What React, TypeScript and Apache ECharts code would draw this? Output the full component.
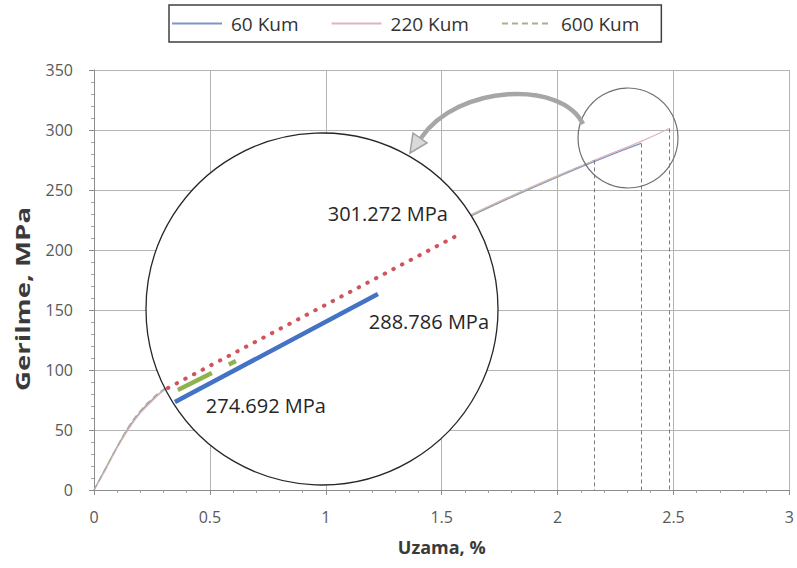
import React, { useEffect, useRef } from "react";
import * as echarts from "echarts";

// ---- main curves (strain %, stress MPa) ----
const strain60 = [0, 0.05, 0.1, 0.15, 0.2, 0.25, 0.3, 0.4, 0.5, 0.6, 0.7, 0.8, 0.9, 1.0, 1.2, 1.4, 1.6, 1.8, 2.0, 2.2, 2.36];
const stress60 = [0, 18, 36, 52, 65, 75, 83, 96, 109, 121, 133, 145, 156, 167, 188, 207, 226, 244, 261, 277, 288.786];

const strain220 = [0, 0.05, 0.1, 0.15, 0.2, 0.25, 0.3, 0.4, 0.5, 0.6, 0.7, 0.8, 0.9, 1.0, 1.2, 1.4, 1.6, 1.8, 2.0, 2.2, 2.36, 2.48];
const stress220 = [0, 17, 35, 51, 64, 74, 83, 97, 110, 122, 134, 146, 157, 168, 189, 208, 227, 245, 262, 278, 290.5, 301.272];

const strain600 = [0, 0.05, 0.1, 0.15, 0.2, 0.25, 0.3, 0.4, 0.5, 0.6, 0.7, 0.8, 0.9, 1.0, 1.2, 1.4, 1.6, 1.8, 2.0, 2.16];
const stress600 = [0, 18, 36, 53, 66, 76, 84, 97, 109, 121, 133, 145, 156, 167, 188, 207, 226, 244, 261, 274.692];

const seriesNames = ["60 Kum", "220 Kum", "600 Kum"];
const peaks = [288.786, 301.272, 274.692];

// ---- magnified inset (zoomed view of the curve ends) ----
const insetStrain60 = [2.051, 2.397];
const insetStress60 = [258.86, 283.41];
const insetStrain220 = [2.039, 2.54];
const insetStress220 = [262.05, 297.27];
const insetStrain600 = [2.056, 2.155];
const insetStress600 = [261.59, 268.2];

const xTicks = { min: 0, max: 3, interval: 0.5 };
const yTicks = { min: 0, max: 350, interval: 50 };

const zip = (a: number[], b: number[]) => a.map((v, i) => [v, b[i]]);

const FONT = "'Open Sans', 'DejaVu Sans', sans-serif";
const C60 = "#8094c4";
const C220 = "#ddb6bd";
const C600 = "#a3b28f";

function dropLine(x: number, y: number) {
  return {
    silent: true,
    symbol: ["none", "none"],
    label: { show: false },
    lineStyle: { color: "#7a7a7a", type: [4, 3], width: 1 },
    data: [[{ coord: [x, y] }, { coord: [x, 0] }]],
  };
}

function peakLabel(x: number, y: number, text: string, offset: number[]) {
  return {
    silent: true,
    z: 12,
    symbol: "rect",
    symbolSize: 1,
    itemStyle: { color: "rgba(0,0,0,0)" },
    label: {
      show: true,
      position: "inside",
      offset,
      formatter: text,
      fontFamily: FONT,
      fontSize: 20,
      color: "#262626",
    },
    data: [{ coord: [x, y] }],
  };
}

export default function App() {
  const ref = useRef<HTMLDivElement>(null);
  useEffect(() => {
    const chart = echarts.init(ref.current!, null, { renderer: "svg" });
    const last = (a: number[]) => a[a.length - 1];
    const option: any = {
      animation: false,
      backgroundColor: "#ffffff",
      textStyle: { fontFamily: FONT },
      legend: {
        data: seriesNames,
        left: 169,
        top: 5,
        padding: [9, 22, 9, 2],
        itemWidth: 50,
        itemHeight: 14,
        itemGap: 32,
        itemStyle: { opacity: 0 },
        borderColor: "#404040",
        borderWidth: 1.5,
        textStyle: { fontFamily: FONT, fontSize: 19, color: "#333333", padding: [0, 0, 0, 4] },
      },
      grid: [
        { left: 94, top: 70, width: 703, height: 420, containLabel: false },
        { left: 145, top: 133, width: 352, height: 352, show: false },
      ],
      xAxis: [
        {
          type: "value",
          gridIndex: 0,
          ...xTicks,
          name: "Uzama, %",
          nameLocation: "middle",
          nameGap: 48,
          nameTextStyle: { fontFamily: FONT, fontSize: 18, fontWeight: "bold", color: "#3a3a3a" },
          axisLine: { show: true, lineStyle: { color: "#8c8c8c", width: 1 } },
          axisTick: { show: true, length: 5, lineStyle: { color: "#8c8c8c" } },
          minorTick: { show: true, splitNumber: 5, length: 3, lineStyle: { color: "#a0a0a0" } },
          splitLine: { show: true, lineStyle: { color: "#b4b4b4", width: 1 } },
          axisLabel: { fontFamily: FONT, fontSize: 16, color: "#595959", margin: 19, showMaxLabel: true },
        },
        { type: "value", gridIndex: 1, min: 2.0, max: 2.6, show: false },
      ],
      yAxis: [
        {
          type: "value",
          gridIndex: 0,
          ...yTicks,
          axisLine: { show: true, lineStyle: { color: "#8c8c8c", width: 1 } },
          axisTick: { show: true, length: 5, lineStyle: { color: "#8c8c8c" } },
          minorTick: { show: true, splitNumber: 5, length: 3, lineStyle: { color: "#a0a0a0" } },
          splitLine: { show: true, lineStyle: { color: "#b4b4b4", width: 1 } },
          axisLabel: { fontFamily: FONT, fontSize: 16, color: "#595959", margin: 21 },
        },
        { type: "value", gridIndex: 1, min: 240, max: 320, show: false },
      ],
      series: [
        {
          name: seriesNames[0],
          type: "line",
          symbol: "none",
          smooth: true,
          data: zip(strain60, stress60),
          lineStyle: { color: C60, width: 1.3 },
          itemStyle: { color: C60 },
          markLine: dropLine(last(strain60), last(stress60)),
        },
        {
          name: seriesNames[1],
          type: "line",
          symbol: "none",
          smooth: true,
          data: zip(strain220, stress220),
          lineStyle: { color: C220, width: 1.3 },
          itemStyle: { color: C220 },
          markLine: dropLine(last(strain220), last(stress220)),
        },
        {
          name: seriesNames[2],
          type: "line",
          symbol: "none",
          smooth: true,
          data: zip(strain600, stress600),
          lineStyle: { color: C600, width: 1.3, type: [6, 4] },
          itemStyle: { color: C600 },
          markLine: dropLine(last(strain600), last(stress600)),
        },
        // inset (magnified) lines
        {
          name: "inset 220",
          type: "line",
          xAxisIndex: 1,
          yAxisIndex: 1,
          z: 10,
          symbol: "none",
          data: zip(insetStrain220, insetStress220),
          lineStyle: { color: "#d0545e", width: 4, type: [0.5, 9.3], cap: "round" },
          markPoint: peakLabel(last(insetStrain220), last(insetStress220), `${peaks[1].toFixed(3)} MPa`, [-74, -20]),
        },
        {
          name: "inset 60",
          type: "line",
          xAxisIndex: 1,
          yAxisIndex: 1,
          z: 10,
          symbol: "none",
          data: zip(insetStrain60, insetStress60),
          lineStyle: { color: "#4472c4", width: 4.5 },
          markPoint: peakLabel(last(insetStrain60), last(insetStress60), `${peaks[0].toFixed(3)} MPa`, [51, 28]),
        },
        {
          name: "inset 600",
          type: "line",
          xAxisIndex: 1,
          yAxisIndex: 1,
          z: 11,
          symbol: "none",
          data: zip(insetStrain600, insetStress600),
          lineStyle: { color: "#8fb24e", width: 4.5, type: [38, 19] },
          markPoint: peakLabel(insetStrain600[0], insetStress600[0], `${peaks[2].toFixed(3)} MPa`, [88, 15]),
        },
      ],
      graphic: [
        {
          type: "text",
          x: 22,
          y: 299,
          rotation: Math.PI / 2,
          scaleX: 1.38,
          silent: true,
          style: {
            text: "Gerilme, MPa",
            fontFamily: FONT,
            fontSize: 20,
            fontWeight: "bold",
            fill: "#3a3a3a",
            align: "center",
            verticalAlign: "middle",
          },
        },
        {
          type: "circle",
          z: 6,
          silent: true,
          shape: { cx: 322, cy: 309, r: 176 },
          style: { fill: "#ffffff", stroke: "#262626", lineWidth: 1.3 },
        },
        {
          type: "circle",
          z: 6,
          silent: true,
          shape: { cx: 628, cy: 138, r: 50 },
          style: { fill: "none", stroke: "#707070", lineWidth: 1.2 },
        },
        {
          type: "bezierCurve",
          z: 6,
          silent: true,
          shape: { x1: 583, y1: 124, cpx1: 562, cpy1: 80, cpx2: 458, cpy2: 84, x2: 421, y2: 138 },
          style: { stroke: "#a6a6a6", lineWidth: 4.5, fill: "none" },
        },
        {
          type: "polygon",
          z: 7,
          silent: true,
          shape: { points: [[410, 153], [427, 143], [413, 133]] },
          style: { fill: "#d9d9d9", stroke: "#a0a0a0", lineWidth: 1.5 },
        },
      ],
    };
    chart.setOption(option);
    return () => chart.dispose();
  }, []);
  return (
    <div
      ref={ref}
      style={{ position: "absolute", left: 0, top: 0, width: 797, height: 568 }}
    />
  );
}
